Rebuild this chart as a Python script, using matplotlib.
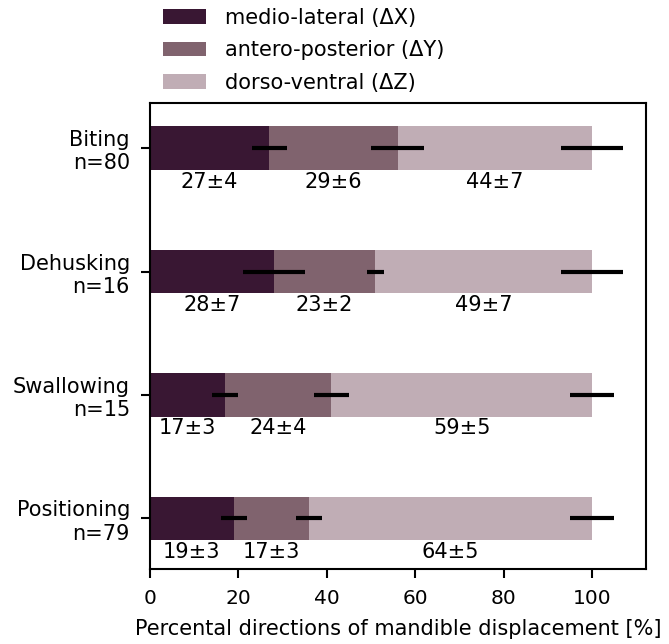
import numpy as np
import matplotlib
matplotlib.use("Agg")
from matplotlib import pyplot as plt

# 数据
tasks = ["Biting\nn=80", "Dehusking\nn=16", "Swallowing\nn=15", "Positioning\nn=79"]
dx = [27, 28, 17, 19]
dy = [29, 23, 24, 17]
dz = [44, 49, 59, 64]
dx_err = [4, 7, 3, 3]
dy_err = [6, 2, 4, 3]
dz_err = [7, 7, 5, 5]
labels = ["medio-lateral (ΔX)", "antero-posterior (ΔY)", "dorso-ventral (ΔZ)"]
colors = ["#391733", "#80636e", "#c0adb5"]

plt.rcParams["font.size"] = 15

fig = plt.figure(figsize=(6.69, 6.44), dpi=100)
ax = fig.add_axes([0.224, 0.1165, 0.742, 0.7235])

ypos = np.arange(len(tasks))[::-1]
left = np.zeros(len(tasks))
for vals, errs, col, lab in zip([dx, dy, dz], [dx_err, dy_err, dz_err], colors, labels):
    vals = np.array(vals)
    ax.barh(ypos, vals, left=left, height=0.35, color=col, label=lab)
    end = left + vals
    ax.errorbar(end, ypos, xerr=errs, fmt="none", ecolor="black", elinewidth=3, capsize=0)
    # 数值标注
    for y, l, v, e in zip(ypos, left, vals, errs):
        ax.text(l + v / 2, y - 0.19, f"{v}±{e}", ha="center", va="top", fontsize=15)
    left = end

ax.set_yticks(ypos)
ax.set_yticklabels(tasks, ha="right", multialignment="right")
ax.set_xlim(0, 112.2)
ax.set_ylim(-0.41, 3.365)
ax.set_xticks([0, 20, 40, 60, 80, 100])
ax.tick_params(width=1.5, length=6.5, pad=7.8)
ax.tick_params(axis="x", labelsize=14.5)
ax.set_xlabel("Percental directions of mandible displacement [%]", fontsize=15, labelpad=8)
for s in ax.spines.values():
    s.set_linewidth(1.5)

ax.legend(loc="lower left", bbox_to_anchor=(0.006, 1.0), frameon=False,
          handlelength=2.05, handleheight=0.7, handletextpad=0.9,
          labelspacing=0.6, borderaxespad=0.1, fontsize=15)

plt.savefig("out.png", dpi=100)
